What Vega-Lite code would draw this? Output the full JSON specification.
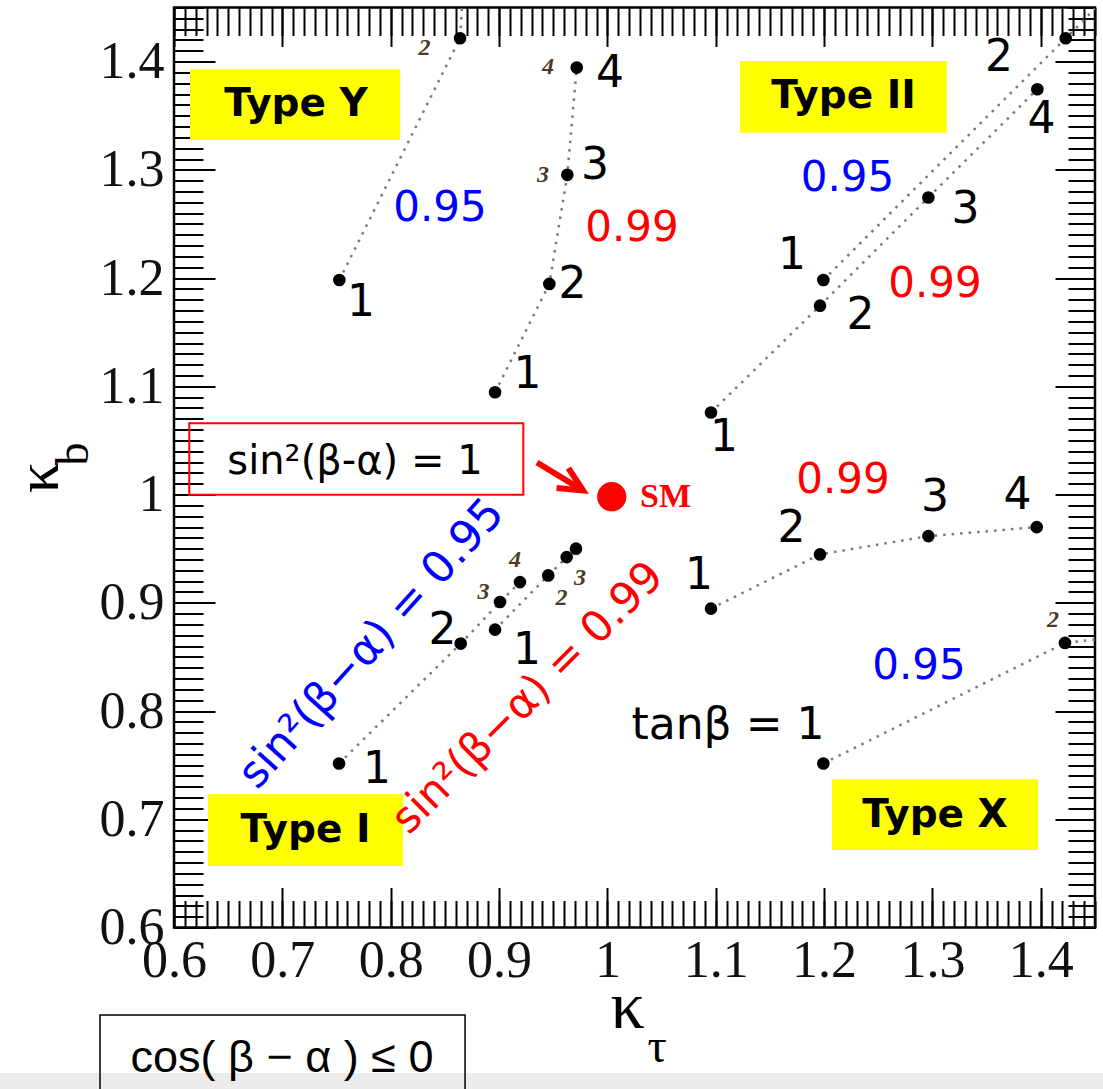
{
  "$schema": "https://vega.github.io/schema/vega-lite/v6.json",
  "width": 921,
  "height": 920,
  "autosize": {"type": "none"},
  "padding": {"left": 174, "top": 7.5, "right": 8, "bottom": 161.5},
  "background": "#ffffff",
  "config": {"view": {"stroke": "#000000", "strokeWidth": 2.5}},
  "datasets": {
    "boxes": [
      {"name": "strip", "k": "strip", "kt": 0.4394, "kt2": 1.4574, "kb": 0.4656, "kb2": 0.44},
      {"name": "Type Y", "k": "type", "kt": 0.6148, "kt2": 0.8086, "kb": 1.393, "kb2": 1.3275},
      {"name": "Type II", "k": "type", "kt": 1.1224, "kt2": 1.3134, "kb": 1.4006, "kb2": 1.3342},
      {"name": "Type I", "k": "type", "kt": 0.6314, "kt2": 0.8114, "kb": 0.7232, "kb2": 0.6568},
      {"name": "Type X", "k": "type", "kt": 1.2073, "kt2": 1.3974, "kb": 0.737, "kb2": 0.6715},
      {"name": "sin box", "k": "formula", "kt": 0.6141, "kt2": 0.9224, "kb": 1.0659, "kb2": 0.9998},
      {"name": "cos box", "k": "note", "kt": 0.5317, "kt2": 0.8686, "kb": 0.5192, "kb2": 0.44}
    ],
    "curves": [
      {"g": "Y95", "tb": 1, "pt": true, "kt": 0.7526, "kb": 1.1982},
      {"g": "Y95", "tb": 2, "pt": true, "kt": 0.864, "kb": 1.4216},
      {"g": "Y95", "tb": 3, "pt": false, "kt": 0.8658, "kb": 1.45},
      {"g": "Y99", "tb": 1, "pt": true, "kt": 0.8963, "kb": 1.0945},
      {"g": "Y99", "tb": 2, "pt": true, "kt": 0.9464, "kb": 1.1946},
      {"g": "Y99", "tb": 3, "pt": true, "kt": 0.963, "kb": 1.2954},
      {"g": "Y99", "tb": 4, "pt": true, "kt": 0.9717, "kb": 1.3945},
      {"g": "II95", "tb": 1, "pt": true, "kt": 1.1993, "kb": 1.1982},
      {"g": "II95", "tb": 2, "pt": true, "kt": 1.423, "kb": 1.4216},
      {"g": "II95", "tb": 3, "pt": false, "kt": 1.45, "kb": 1.449},
      {"g": "II99", "tb": 1, "pt": true, "kt": 1.0956, "kb": 1.0758},
      {"g": "II99", "tb": 2, "pt": true, "kt": 1.1962, "kb": 1.1745},
      {"g": "II99", "tb": 3, "pt": true, "kt": 1.2962, "kb": 1.2745},
      {"g": "II99", "tb": 4, "pt": true, "kt": 1.3968, "kb": 1.3745},
      {"g": "X99", "tb": 1, "pt": true, "kt": 1.0956, "kb": 0.8946},
      {"g": "X99", "tb": 2, "pt": true, "kt": 1.1962, "kb": 0.9447},
      {"g": "X99", "tb": 3, "pt": true, "kt": 1.2962, "kb": 0.9616},
      {"g": "X99", "tb": 4, "pt": true, "kt": 1.3962, "kb": 0.9699},
      {"g": "X95", "tb": 1, "pt": true, "kt": 1.1993, "kb": 0.7515},
      {"g": "X95", "tb": 2, "pt": true, "kt": 1.4223, "kb": 0.8629},
      {"g": "X95", "tb": 3, "pt": false, "kt": 1.45, "kb": 0.866},
      {"g": "I95", "tb": 1, "pt": true, "kt": 0.7523, "kb": 0.7515},
      {"g": "I95", "tb": 2, "pt": true, "kt": 0.8646, "kb": 0.8623},
      {"g": "I95", "tb": 3, "pt": true, "kt": 0.9009, "kb": 0.9007},
      {"g": "I95", "tb": 4, "pt": true, "kt": 0.9193, "kb": 0.9191},
      {"g": "I99", "tb": 1, "pt": true, "kt": 0.8963, "kb": 0.8752},
      {"g": "I99", "tb": 2, "pt": true, "kt": 0.9454, "kb": 0.9253},
      {"g": "I99", "tb": 3, "pt": true, "kt": 0.9624, "kb": 0.9422},
      {"g": "I99", "tb": 4, "pt": true, "kt": 0.971, "kb": 0.95}
    ],
    "labels": [
      {"t": "1", "k": "num", "kt": 0.7726, "kb": 1.1774},
      {"t": "4", "k": "num", "kt": 1.0024, "kb": 1.3886},
      {"t": "3", "k": "num", "kt": 0.9886, "kb": 1.3037},
      {"t": "2", "k": "num", "kt": 0.9678, "kb": 1.1934},
      {"t": "1", "k": "num", "kt": 0.9263, "kb": 1.1104},
      {"t": "2", "k": "num", "kt": 1.3614, "kb": 1.4029},
      {"t": "4", "k": "num", "kt": 1.4006, "kb": 1.3457},
      {"t": "3", "k": "num", "kt": 1.3305, "kb": 1.2627},
      {"t": "1", "k": "num", "kt": 1.1704, "kb": 1.2207},
      {"t": "2", "k": "num", "kt": 1.2336, "kb": 1.1648},
      {"t": "1", "k": "num", "kt": 1.1076, "kb": 1.0522},
      {"t": "2", "k": "num", "kt": 1.1699, "kb": 0.9682},
      {"t": "1", "k": "num", "kt": 1.0845, "kb": 0.9249},
      {"t": "3", "k": "num", "kt": 1.3024, "kb": 0.9969},
      {"t": "4", "k": "num", "kt": 1.3785, "kb": 0.9987},
      {"t": "2", "k": "num", "kt": 0.8478, "kb": 0.8741},
      {"t": "1", "k": "num", "kt": 0.9258, "kb": 0.8557},
      {"t": "1", "k": "num", "kt": 0.7874, "kb": 0.7458},
      {"t": "tanβ = 1", "k": "num", "kt": 1.1113, "kb": 0.7862},
      {"t": "0.95", "k": "blue", "kt": 0.8455, "kb": 1.265},
      {"t": "0.95", "k": "blue", "kt": 1.2216, "kb": 1.2922},
      {"t": "0.95", "k": "blue", "kt": 1.2876, "kb": 0.8413},
      {"t": "0.99", "k": "red", "kt": 1.0227, "kb": 1.246},
      {"t": "0.99", "k": "red", "kt": 1.3023, "kb": 1.1948},
      {"t": "0.99", "k": "red", "kt": 1.2174, "kb": 1.0139},
      {"t": "2", "k": "small", "kt": 0.8312, "kb": 1.4126},
      {"t": "4", "k": "small", "kt": 0.9452, "kb": 1.3951},
      {"t": "3", "k": "small", "kt": 0.9406, "kb": 1.2954},
      {"t": "3", "k": "small", "kt": 0.8856, "kb": 0.9096},
      {"t": "4", "k": "small", "kt": 0.9147, "kb": 0.9392},
      {"t": "2", "k": "small", "kt": 0.9576, "kb": 0.9046},
      {"t": "3", "k": "small", "kt": 0.9747, "kb": 0.923},
      {"t": "2", "k": "small", "kt": 1.4113, "kb": 0.8838},
      {"t": "Type Y", "k": "type", "kt": 0.7126, "kb": 1.3608},
      {"t": "Type II", "k": "type", "kt": 1.2179, "kb": 1.3682},
      {"t": "Type I", "k": "type", "kt": 0.7214, "kb": 0.6901},
      {"t": "Type X", "k": "type", "kt": 1.3023, "kb": 0.7044},
      {"t": "sin²(β-α) = 1", "k": "formula", "kt": 0.767, "kb": 1.03},
      {"t": "cos( β − α ) ≤ 0", "k": "note", "kt": 0.6997, "kb": 0.4796},
      {"t": "SM", "k": "sm", "kt": 1.0301, "kb": 0.9982},
      {"t": "sin²(β−α) = 0.95", "k": "rotblue", "kt": 0.7827, "kb": 0.8619},
      {"t": "sin²(β−α) = 0.99", "k": "rotred", "kt": 0.9267, "kb": 0.812},
      {"t": "τ", "k": "subx", "kt": 1.0458, "kb": 0.4887},
      {"t": "b", "k": "suby", "kt": 0.508, "kb": 1.0375}
    ],
    "sm": [{"name": "SM", "kt": 1.004, "kb": 0.998}],
    "arrow": [{"kt": 0.935, "kb": 1.0296, "kt2": 0.9775, "kb2": 1.0038}]
  },
  "resolve": {"axis": {"x": "independent", "y": "independent"}},
  "layer": [
    {
      "data": {"name": "boxes"},
      "transform": [{"filter": "datum.k == 'strip'"}],
      "mark": {"type": "rect", "fill": "#ebebeb"},
      "encoding": {
        "x": {"field": "kt", "type": "quantitative", "scale": {"domain": [0.6, 1.45], "nice": false, "zero": false},
          "axis": {"orient": "bottom", "values": [0.6, 0.7, 0.8, 0.9, 1, 1.1, 1.2, 1.3, 1.4], "format": "~g", "ticks": false, "domain": false, "grid": false,
            "labelFont": "Liberation Serif", "labelFontSize": 52, "labelColor": "#111111", "labelPadding": 8, "labelFlush": false, "labelOverlap": false, "labelBound": false,
            "title": "κ", "titleFont": "Liberation Serif", "titleFontSize": 68, "titleFontWeight": "normal", "titleColor": "#000000", "titleX": 453, "titleY": 80, "titleAlign": "center", "titleBaseline": "middle"}},
        "x2": {"field": "kt2"},
        "y": {"field": "kb", "type": "quantitative", "scale": {"domain": [0.6, 1.45], "nice": false, "zero": false},
          "axis": {"orient": "left", "values": [0.6, 0.7, 0.8, 0.9, 1, 1.1, 1.2, 1.3, 1.4], "format": "~g", "ticks": false, "domain": false, "grid": false,
            "labelFont": "Liberation Serif", "labelFontSize": 52, "labelColor": "#111111", "labelPadding": 10, "labelFlush": false, "labelOverlap": false, "labelBound": false,
            "title": "κ", "titleFont": "Liberation Serif", "titleFontSize": 62, "titleFontWeight": "normal", "titleColor": "#000000", "titleX": -136, "titleY": 469.5, "titleAngle": 270, "titleAlign": "center", "titleBaseline": "middle"}},
        "y2": {"field": "kb2"}
      }
    },
    {
      "data": {"name": "boxes"},
      "transform": [{"filter": "datum.k == 'type'"}],
      "mark": {"type": "rect", "fill": "#ffff00"},
      "encoding": {
        "x": {"field": "kt", "type": "quantitative", "scale": {"domain": [0.6, 1.45], "nice": false, "zero": false},
          "axis": {"orient": "bottom", "values": [0.6, 0.7, 0.8, 0.9, 1, 1.1, 1.2, 1.3, 1.4], "labels": false, "domain": false, "grid": false, "tickSize": -40, "tickWidth": 2, "tickColor": "#000000", "title": null}},
        "x2": {"field": "kt2"},
        "y": {"field": "kb", "type": "quantitative", "scale": {"domain": [0.6, 1.45], "nice": false, "zero": false},
          "axis": {"orient": "left", "values": [0.6, 0.7, 0.8, 0.9, 1, 1.1, 1.2, 1.3, 1.4], "labels": false, "domain": false, "grid": false, "tickSize": -41, "tickWidth": 2, "tickColor": "#000000", "title": null}},
        "y2": {"field": "kb2"}
      }
    },
    {
      "data": {"name": "boxes"},
      "transform": [{"filter": "datum.k == 'formula'"}],
      "mark": {"type": "rect", "filled": false, "color": "#ff0000", "strokeWidth": 2},
      "encoding": {
        "x": {"field": "kt", "type": "quantitative", "scale": {"domain": [0.6, 1.45], "nice": false, "zero": false},
          "axis": {"orient": "bottom", "tickCount": 85, "labels": false, "domain": false, "grid": false, "tickSize": -27, "tickWidth": 2, "tickColor": "#000000", "title": null}},
        "x2": {"field": "kt2"},
        "y": {"field": "kb", "type": "quantitative", "scale": {"domain": [0.6, 1.45], "nice": false, "zero": false},
          "axis": {"orient": "left", "tickCount": 85, "labels": false, "domain": false, "grid": false, "tickSize": -29, "tickWidth": 2, "tickColor": "#000000", "title": null}},
        "y2": {"field": "kb2"}
      }
    },
    {
      "data": {"name": "boxes"},
      "transform": [{"filter": "datum.k == 'note'"}],
      "mark": {"type": "rect", "filled": false, "color": "#000000", "strokeWidth": 1.5},
      "encoding": {
        "x": {"field": "kt", "type": "quantitative", "scale": {"domain": [0.6, 1.45], "nice": false, "zero": false},
          "axis": {"orient": "top", "values": [0.6, 0.7, 0.8, 0.9, 1, 1.1, 1.2, 1.3, 1.4], "labels": false, "domain": false, "grid": false, "tickSize": -39, "tickWidth": 2, "tickColor": "#000000", "title": null}},
        "x2": {"field": "kt2"},
        "y": {"field": "kb", "type": "quantitative", "scale": {"domain": [0.6, 1.45], "nice": false, "zero": false},
          "axis": {"orient": "right", "values": [0.6, 0.7, 0.8, 0.9, 1, 1.1, 1.2, 1.3, 1.4], "labels": false, "domain": false, "grid": false, "tickSize": -40, "tickWidth": 2, "tickColor": "#000000", "title": null}},
        "y2": {"field": "kb2"}
      }
    },
    {
      "data": {"name": "curves"},
      "mark": {"type": "line", "color": "#7a7a7a", "strokeWidth": 2.5, "strokeDash": [2.5, 6], "clip": true},
      "encoding": {
        "x": {"field": "kt", "type": "quantitative", "scale": {"domain": [0.6, 1.45], "nice": false, "zero": false},
          "axis": {"orient": "top", "tickCount": 85, "labels": false, "domain": false, "grid": false, "tickSize": -28, "tickWidth": 2, "tickColor": "#000000", "title": null}},
        "y": {"field": "kb", "type": "quantitative", "scale": {"domain": [0.6, 1.45], "nice": false, "zero": false},
          "axis": {"orient": "right", "tickCount": 85, "labels": false, "domain": false, "grid": false, "tickSize": -27, "tickWidth": 2, "tickColor": "#000000", "title": null}},
        "detail": {"field": "g", "type": "nominal"},
        "order": {"field": "tb", "type": "quantitative"}
      }
    },
    {
      "data": {"name": "curves"},
      "transform": [{"filter": "datum.pt"}],
      "mark": {"type": "circle", "color": "#000000", "opacity": 1, "size": 160},
      "encoding": {
        "x": {"field": "kt", "type": "quantitative", "axis": null},
        "y": {"field": "kb", "type": "quantitative", "axis": null}
      }
    },
    {
      "data": {"name": "labels"},
      "transform": [{"filter": "datum.k == 'num'"}],
      "mark": {"type": "text", "font": "DejaVu Sans", "fontSize": 44, "color": "#000000", "align": "center", "baseline": "middle"},
      "encoding": {
        "x": {"field": "kt", "type": "quantitative", "axis": null},
        "y": {"field": "kb", "type": "quantitative", "axis": null},
        "text": {"field": "t"}
      }
    },
    {
      "data": {"name": "labels"},
      "transform": [{"filter": "datum.k == 'blue'"}],
      "mark": {"type": "text", "font": "DejaVu Sans", "fontSize": 42, "color": "#0000ff", "align": "center", "baseline": "middle"},
      "encoding": {
        "x": {"field": "kt", "type": "quantitative", "axis": null},
        "y": {"field": "kb", "type": "quantitative", "axis": null},
        "text": {"field": "t"}
      }
    },
    {
      "data": {"name": "labels"},
      "transform": [{"filter": "datum.k == 'red'"}],
      "mark": {"type": "text", "font": "DejaVu Sans", "fontSize": 42, "color": "#ff0000", "align": "center", "baseline": "middle"},
      "encoding": {
        "x": {"field": "kt", "type": "quantitative", "axis": null},
        "y": {"field": "kb", "type": "quantitative", "axis": null},
        "text": {"field": "t"}
      }
    },
    {
      "data": {"name": "labels"},
      "transform": [{"filter": "datum.k == 'small'"}],
      "mark": {"type": "text", "font": "Liberation Serif", "fontSize": 24, "fontStyle": "italic", "fontWeight": "bold", "color": "#4d3a26", "align": "center", "baseline": "middle"},
      "encoding": {
        "x": {"field": "kt", "type": "quantitative", "axis": null},
        "y": {"field": "kb", "type": "quantitative", "axis": null},
        "text": {"field": "t"}
      }
    },
    {
      "data": {"name": "labels"},
      "transform": [{"filter": "datum.k == 'type'"}],
      "mark": {"type": "text", "font": "DejaVu Sans", "fontSize": 39, "fontWeight": "bold", "color": "#000000", "align": "center", "baseline": "middle"},
      "encoding": {
        "x": {"field": "kt", "type": "quantitative", "axis": null},
        "y": {"field": "kb", "type": "quantitative", "axis": null},
        "text": {"field": "t"}
      }
    },
    {
      "data": {"name": "labels"},
      "transform": [{"filter": "datum.k == 'formula'"}],
      "mark": {"type": "text", "font": "DejaVu Sans", "fontSize": 40, "color": "#000000", "align": "center", "baseline": "middle"},
      "encoding": {
        "x": {"field": "kt", "type": "quantitative", "axis": null},
        "y": {"field": "kb", "type": "quantitative", "axis": null},
        "text": {"field": "t"}
      }
    },
    {
      "data": {"name": "labels"},
      "transform": [{"filter": "datum.k == 'note'"}],
      "mark": {"type": "text", "font": "Liberation Sans", "fontSize": 45, "color": "#000000", "align": "center", "baseline": "middle"},
      "encoding": {
        "x": {"field": "kt", "type": "quantitative", "axis": null},
        "y": {"field": "kb", "type": "quantitative", "axis": null},
        "text": {"field": "t"}
      }
    },
    {
      "data": {"name": "labels"},
      "transform": [{"filter": "datum.k == 'sm'"}],
      "mark": {"type": "text", "font": "Liberation Serif", "fontSize": 34, "fontWeight": "bold", "color": "#ff0000", "align": "left", "baseline": "middle"},
      "encoding": {
        "x": {"field": "kt", "type": "quantitative", "axis": null},
        "y": {"field": "kb", "type": "quantitative", "axis": null},
        "text": {"field": "t"}
      }
    },
    {
      "data": {"name": "labels"},
      "transform": [{"filter": "datum.k == 'rotblue'"}],
      "mark": {"type": "text", "font": "DejaVu Sans", "fontSize": 44, "color": "#0000ff", "align": "center", "baseline": "middle", "angle": 312},
      "encoding": {
        "x": {"field": "kt", "type": "quantitative", "axis": null},
        "y": {"field": "kb", "type": "quantitative", "axis": null},
        "text": {"field": "t"}
      }
    },
    {
      "data": {"name": "labels"},
      "transform": [{"filter": "datum.k == 'rotred'"}],
      "mark": {"type": "text", "font": "DejaVu Sans", "fontSize": 43, "color": "#ff0000", "align": "center", "baseline": "middle", "angle": 315},
      "encoding": {
        "x": {"field": "kt", "type": "quantitative", "axis": null},
        "y": {"field": "kb", "type": "quantitative", "axis": null},
        "text": {"field": "t"}
      }
    },
    {
      "data": {"name": "labels"},
      "transform": [{"filter": "datum.k == 'subx'"}],
      "mark": {"type": "text", "font": "Liberation Serif", "fontSize": 48, "color": "#000000", "align": "center", "baseline": "middle"},
      "encoding": {
        "x": {"field": "kt", "type": "quantitative", "axis": null},
        "y": {"field": "kb", "type": "quantitative", "axis": null},
        "text": {"field": "t"}
      }
    },
    {
      "data": {"name": "labels"},
      "transform": [{"filter": "datum.k == 'suby'"}],
      "mark": {"type": "text", "font": "Liberation Serif", "fontSize": 46, "color": "#000000", "align": "center", "baseline": "middle", "angle": 270},
      "encoding": {
        "x": {"field": "kt", "type": "quantitative", "axis": null},
        "y": {"field": "kb", "type": "quantitative", "axis": null},
        "text": {"field": "t"}
      }
    },
    {
      "data": {"name": "arrow"},
      "mark": {"type": "rule", "color": "#ff0000", "strokeWidth": 6},
      "encoding": {
        "x": {"field": "kt", "type": "quantitative", "axis": null},
        "y": {"field": "kb", "type": "quantitative", "axis": null},
        "x2": {"field": "kt2"},
        "y2": {"field": "kb2"}
      }
    },
    {
      "data": {"name": "arrow"},
      "mark": {"type": "point", "shape": "M-1,-0.48L0,0L-1,0.48", "filled": false, "color": "#ff0000", "strokeWidth": 6, "size": 2304, "angle": 31, "opacity": 1},
      "encoding": {
        "x": {"field": "kt2", "type": "quantitative", "axis": null},
        "y": {"field": "kb2", "type": "quantitative", "axis": null}
      }
    },
    {
      "data": {"name": "sm"},
      "mark": {"type": "circle", "color": "#ff0000", "opacity": 1, "size": 855},
      "encoding": {
        "x": {"field": "kt", "type": "quantitative", "axis": null},
        "y": {"field": "kb", "type": "quantitative", "axis": null}
      }
    }
  ]
}
